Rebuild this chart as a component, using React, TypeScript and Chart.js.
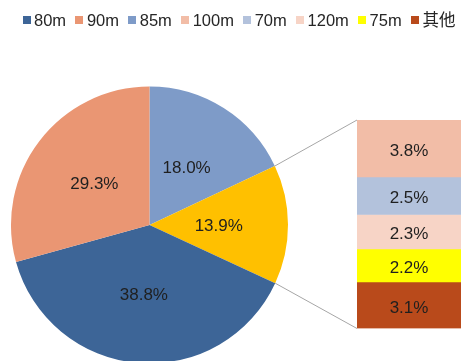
import { useEffect, useRef } from "react";
import { Chart, registerables } from "chart.js";

Chart.register(...registerables);

// Main pie: clockwise from 12 o'clock; the second slice is the subtotal broken out in the bar
const pieCategories = ["85m", "小计", "80m", "90m"];
const pieValues = [18.0, 13.9, 38.8, 29.3];
const pieColors = ["#7E9BC8", "#FFC000", "#3D6597", "#EA9673"];

// Breakdown bar, top to bottom
const barCategories = ["100m", "70m", "120m", "75m", "其他"];
const barValues = [3.8, 2.5, 2.3, 2.2, 3.1];
const barColors = ["#F2BDA7", "#B3C2DC", "#F7D4C6", "#FFFF00", "#B94A1B"];

const legendCategories = ["80m", "90m", "85m", "100m", "70m", "120m", "75m", "其他"];

const FONT = "'Liberation Sans', Arial, 'Noto Sans CJK SC', sans-serif";
const TEXT = "#1f1f1f";
const LABEL_SIZE = 17;

function colorFor(name: string): string {
  const bi = barCategories.indexOf(name);
  if (bi >= 0) return barColors[bi];
  const pi = pieCategories.indexOf(name);
  return pi >= 0 ? pieColors[pi] : "#000";
}

// Centres digit glyphs (cap height) on the given point
function drawCentered(ctx: CanvasRenderingContext2D, text: string, x: number, y: number) {
  ctx.textAlign = "center";
  ctx.textBaseline = "alphabetic";
  ctx.fillText(text, x, y + LABEL_SIZE * 0.36);
}

export default function App() {
  const pieRef = useRef<HTMLCanvasElement | null>(null);
  const barRef = useRef<HTMLCanvasElement | null>(null);

  useEffect(() => {
    if (!pieRef.current || !barRef.current) return;

    const pieLabelPlugin = {
      id: "pieLabels",
      afterDatasetsDraw(chart: any) {
        const ctx = chart.ctx;
        const meta = chart.getDatasetMeta(0);
        ctx.save();
        ctx.font = `${LABEL_SIZE}px ${FONT}`;
        ctx.fillStyle = TEXT;
        meta.data.forEach((arc: any, i: number) => {
          const p = arc.getProps(["x", "y", "startAngle", "endAngle", "outerRadius"], true);
          const mid = (p.startAngle + p.endAngle) / 2;
          const r = p.outerRadius * 0.5;
          drawCentered(ctx, pieValues[i].toFixed(1) + "%", p.x + Math.cos(mid) * r, p.y + Math.sin(mid) * r);
        });
        ctx.restore();
      },
    };

    const pie = new Chart(pieRef.current, {
      type: "pie",
      data: {
        labels: pieCategories,
        datasets: [{ data: pieValues, backgroundColor: pieColors, borderWidth: 0 }],
      },
      options: {
        responsive: false,
        animation: false,
        events: [],
        rotation: 0,
        layout: { padding: { left: 11, top: 86.5, right: 176, bottom: 16.5 } },
        plugins: { legend: { display: false }, tooltip: { enabled: false } },
      },
      plugins: [pieLabelPlugin],
    });

    const barTotal = barValues.reduce((a, b) => a + b, 0);

    const connectorPlugin = {
      id: "connectors",
      afterDraw(chart: any) {
        const arc: any = pie.getDatasetMeta(0).data[1];
        if (!arc) return;
        const p = arc.getProps(["x", "y", "startAngle", "endAngle", "outerRadius"], true);
        const yScale = chart.scales.y;
        const first: any = chart.getDatasetMeta(0).data[0];
        const left = first.x - first.width / 2;
        const top = yScale.getPixelForValue(0);
        const bottom = yScale.getPixelForValue(barTotal);
        const ctx = chart.ctx;
        ctx.save();
        ctx.strokeStyle = "#A6A6A6";
        ctx.lineWidth = 1;
        ctx.beginPath();
        ctx.moveTo(p.x + Math.cos(p.startAngle) * p.outerRadius, p.y + Math.sin(p.startAngle) * p.outerRadius);
        ctx.lineTo(left, top);
        ctx.moveTo(p.x + Math.cos(p.endAngle) * p.outerRadius, p.y + Math.sin(p.endAngle) * p.outerRadius);
        ctx.lineTo(left, bottom);
        ctx.stroke();
        ctx.restore();
      },
    };

    const barLabelPlugin = {
      id: "barLabels",
      afterDatasetsDraw(chart: any) {
        const ctx = chart.ctx;
        ctx.save();
        ctx.font = `${LABEL_SIZE}px ${FONT}`;
        ctx.fillStyle = TEXT;
        barValues.forEach((v, i) => {
          const el: any = chart.getDatasetMeta(i).data[0];
          const p = el.getProps(["x", "y", "base"], true);
          drawCentered(ctx, v.toFixed(1) + "%", p.x, (p.y + p.base) / 2 + 1.5);
        });
        ctx.restore();
      },
    };

    const bar = new Chart(barRef.current, {
      type: "bar",
      data: {
        labels: [""],
        datasets: barCategories.map((c, i) => ({
          label: c,
          data: [barValues[i]],
          backgroundColor: barColors[i],
          borderWidth: 0,
          barPercentage: 1,
          categoryPercentage: 1,
        })),
      },
      options: {
        responsive: false,
        animation: false,
        events: [],
        layout: { padding: { left: 357, top: 120, right: 3, bottom: 32.5 } },
        scales: {
          x: { stacked: true, display: false },
          y: { stacked: true, display: false, reverse: true, min: 0, max: barTotal },
        },
        plugins: { legend: { display: false }, tooltip: { enabled: false } },
      },
      plugins: [connectorPlugin, barLabelPlugin],
    });

    return () => {
      bar.destroy();
      pie.destroy();
    };
  }, []);

  return (
    <div
      style={{
        position: "fixed",
        left: 0,
        top: 0,
        width: 464,
        height: 361,
        overflow: "hidden",
        background: "#ffffff",
      }}
    >
      <canvas ref={pieRef} width={464} height={380} style={{ position: "absolute", left: 0, top: 0 }} />
      <canvas ref={barRef} width={464} height={361} style={{ position: "absolute", left: 0, top: 0 }} />
      <div
        style={{
          position: "absolute",
          left: 22.5,
          top: 10,
          width: 433,
          height: 20,
          display: "flex",
          justifyContent: "space-between",
          alignItems: "center",
          whiteSpace: "nowrap",
          fontFamily: FONT,
          fontSize: 16.5,
          lineHeight: "20px",
          color: "#262626",
        }}
      >
        {legendCategories.map((c) => (
          <div key={c} style={{ display: "flex", alignItems: "center" }}>
            <span style={{ display: "inline-block", width: 8, height: 8, background: colorFor(c), marginRight: 3.5 }} />
            <span>{c}</span>
          </div>
        ))}
      </div>
    </div>
  );
}
